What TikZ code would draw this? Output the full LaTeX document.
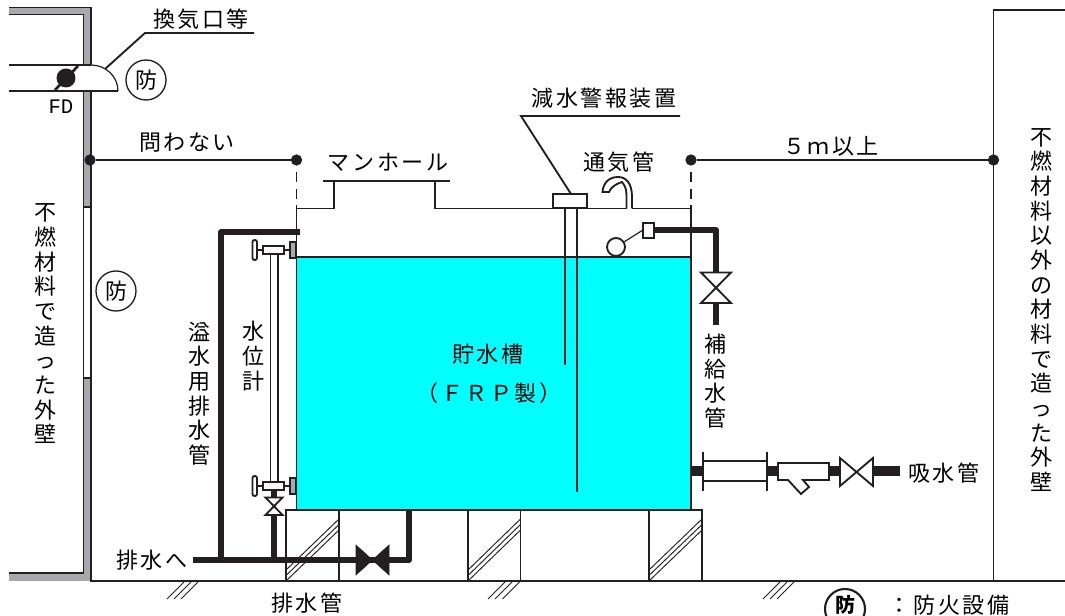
\documentclass[tikz,border=0pt]{standalone}
\usepackage{fontspec}
\newfontfamily\jp{Noto Sans CJK JP}
\newfontfamily\jps[LetterSpace=12]{Noto Sans CJK JP}
\newfontfamily\fdfont{Liberation Mono}
\definecolor{ink}{HTML}{231F20}
\definecolor{wall}{HTML}{A7A9AC}
\definecolor{water}{HTML}{00FFFF}
\tikzset{
 ln/.style={draw=ink,line width=1.4pt},
 thin ln/.style={draw=ink,line width=0.9pt},
 pipe/.style={draw=ink,line width=4.2pt,line join=round},
 fatpipe/.style={draw=ink,line width=7.5pt},
 hor/.style={font=\jps\fontsize{16.5}{18}\selectfont,inner sep=0pt},
 ver/.style={font=\jp\fontsize{16.5}{18.5}\selectfont,align=center,inner sep=0pt},
 dot/.style={circle,fill=ink,minimum size=8.5pt,inner sep=0pt},
 mark circ/.style={circle,draw=ink,line width=1pt,minimum size=30pt,inner sep=0pt,font=\jp\fontsize{16.5}{18}\selectfont},
 hatch/.style={draw=ink,line width=0.7pt}
}
\begin{document}
\begin{tikzpicture}[x=0.75pt,y=-0.75pt]
\useasboundingbox (0,0) rectangle (1065,616);
\clip (0,0) rectangle (1065,616);
% wall left
\fill[wall] (9,7.5) -- (91,7.5) -- (91,65) -- (83.5,65) -- (83.5,14.5) -- (9,14.5) -- cycle;
\fill[wall] (83.5,91) rectangle (91,207);
\fill[wall] (83.5,378) -- (91,378) -- (91,581) -- (9,581) -- (9,573) -- (83.5,573) -- cycle;
\draw[ln] (9,7.5) -- (91,7.5) -- (91,65);
\draw[ln] (9,14.5) -- (83.5,14.5) -- (83.5,65);
\draw[ln] (83.5,91) -- (83.5,207) -- (91,207) -- (91,91);
\draw[thin ln] (83.5,207) -- (83.5,378) (91,207) -- (91,378);
\draw[ln] (91,581) -- (91,378) -- (83.5,378) -- (83.5,573) -- (9,573);
% duct
\draw[ln] (9,65) -- (91,65);
\draw[ln] (9,91) -- (118,91);
\draw[thin ln] (91,65) arc[start angle=-90,end angle=0,x radius=27,y radius=26];
\draw[ln,line width=2pt] (55,90) -- (78,66);
\fill[ink] (66,78) circle (9.5);
\node[font=\fdfont\fontsize{15.5}{16}\selectfont,inner sep=0pt] (fd) at (61,107) {FD};
\node[mark circ] (m1) at (146,80) {防};
\node[mark circ] (m2) at (116,291) {防};
% leader vents
\node[hor] (vent) at (201,19) {換気口等};
\coordinate (v1) at (254,33);
\coordinate (v2) at (145,33);
\coordinate (v3) at (105,69);
\draw[ln] (v1) -- (v2) -- (v3);
% ground
\draw[ln] (90,581) -- (1065,581);
\foreach \x in {184,191,198,505,512,519.5,780,787,794}
  \draw[hatch] (\x,582) -- ++(-17,17);
% right wall
\draw[ln] (1065,10) -- (993.5,10) -- (993.5,581);
% tank water
\fill[water] (297,257) rectangle (691,510);
\draw[ln] (296.5,257) -- (691,257);
% tank
\draw[ln] (296.5,510) -- (296.5,208.5) -- (334,208.5) -- (334,181);
\draw[ln] (323,181) -- (450,181);
\draw[ln] (434.7,181) -- (434.7,208.5) -- (553,208.5);
\draw[ln] (587,208.5) -- (626.5,208.5);
\draw[ln] (632,208.5) -- (691,208.5) -- (691,510);
% base
\draw[ln] (286,581) -- (286,510) -- (702,510) -- (702,581);
\foreach \x in {339,468,520.5,649} \draw[ln] (\x,510) -- (\x,581);
\foreach \xa/\xb in {286/339,468/520.5,649/702}
 \foreach \d in {0,5.5,11}
   \draw[hatch] (\xa,570+\d) -- (\xb,519+\d);
% dims
\node[dot] (d1) at (90,160) {};
\node[dot] (d2) at (296.5,160) {};
\node[dot] (d3) at (691,160) {};
\node[dot] (d4) at (993.5,160) {};
\draw[ln] (d1) -- (d2);
\draw[ln] (d3) -- (d4);
\draw[ln,dash pattern=on 7.5pt off 5pt] (296.5,172) -- (296.5,208);
\draw[ln,dash pattern=on 7.5pt off 5pt] (691,172) -- (691,208);
% alarm
\draw[ln] (565,208) -- (565,365);
\draw[ln] (577,208) -- (577,492);
\node[draw=ink,line width=1.4pt,fill=white,minimum width=25pt,minimum height=10.5pt,inner sep=0pt] (alarm) at (570,201) {};
\coordinate (a1) at (680,116);
\coordinate (a2) at (521,116);
\draw[ln] (a1) -- (a2) -- (571,194);
% vent pipe
\draw[ln] (632,208.5) -- (632,197) .. controls (632,183) and (626,177) .. (618,177) .. controls (608,177) and (603,184) .. (602.5,192) -- (609,192) .. controls (611,187) and (616,184) .. (622,182) .. controls (626,187) and (626.5,190) .. (626.5,197) -- (626.5,208.5);
% float
\node[circle,draw=ink,line width=1.4pt,fill=white,minimum size=13.5pt,inner sep=0pt] (flt) at (616,247) {};
\draw[thin ln] (flt) -- (643,230);
\draw[pipe] (654,230) -- (716,230) -- (716,272);
\node[draw=ink,line width=1.4pt,fill=white,minimum width=8pt,minimum height=11pt,inner sep=0pt] (tap) at (648.5,230.5) {};
\draw[ln,fill=white] (701,272.5) -- (731,272.5) -- (701,303) -- (731,303) -- cycle;
\draw[pipe] (716,303) -- (716,325);
% suction
\draw[fatpipe] (692,471) -- (703,471);
\draw[fatpipe] (767,471) -- (779,471);
\draw[fatpipe] (829,471) -- (841,471);
\draw[fatpipe] (873,471) -- (900,471);
\draw[ln] (703,461) -- (767,461) (703,481) -- (767,481);
\draw[ln] (703,452) -- (703,491) (767,452) -- (767,491);
\draw[ln,fill=white] (778,463) -- (829,463) -- (829,480) -- (803,480) -- (809,487) -- (801,494) -- (788,480) -- (778,480) -- cycle;
\draw[ln,fill=white] (840,458) -- (873,486) -- (873,458) -- (840,486) -- cycle;
% overflow
\draw[pipe] (300,232) -- (221,232) -- (221,560);
\draw[pipe] (193,560) -- (409,560) -- (409,510);
\draw[fill=ink,draw=ink] (356,545) -- (389,575) -- (389,545) -- (356,575) -- cycle;
\draw[pipe] (274,515) -- (274,560);
\draw[pipe] (274,490) -- (274,497);
\draw[ln,fill=white] (265.5,497.5) -- (282.5,497.5) -- (265.5,515) -- (282.5,515) -- cycle;
% gauge
\draw[thin ln] (270.5,254) -- (270.5,482);
\draw[thin ln] (278,254) -- (278,482);
\foreach \y in {250,486} {
 \draw[ln] (257,\y) -- (263,\y) (284,\y) -- (290,\y);
 \draw[ln,fill=white] (263,\y-4) rectangle (284,\y+4);
 \draw[ln,fill=white,rounded corners=1.5pt] (252.5,\y-10) rectangle (257,\y+10);
 \draw[ln,fill=wall] (290,\y-8) rectangle (296,\y+8);
}
% labels
\node[hor] (l1) at (187,143) {問わない};
\node[hor] (l2) at (388,162) {マンホール};
\node[hor] (l3) at (604,98) {減水警報装置};
\node[hor] (l4) at (619,162) {通気管};
\node[hor] (l5) at (831,146) {５ｍ以上};
\node[hor] (l6) at (488,354) {貯水槽};
\node[hor] (l7) at (489,393) {（ＦＲＰ製）};
\node[hor] (l8) at (944,473) {吸水管};
\node[hor] (l9) at (152,560) {排水へ};
\node[hor] (l10) at (307,603) {排水管};
\node[ver] (v1t) at (45,324) {不\\燃\\材\\料\\で\\造\\っ\\た\\外\\壁};
\node[ver] (v2t) at (1041,310) {不\\燃\\材\\料\\以\\外\\の\\材\\料\\で\\造\\っ\\た\\外\\壁};
\node[ver] (v3t) at (199.5,393.5) {溢\\水\\用\\排\\水\\管};
\node[ver] (v4t) at (253,356) {水\\位\\計};
\node[ver] (v5t) at (715,381) {補\\給\\水\\管};
\node[circle,draw=ink,line width=1.6pt,minimum size=30pt,inner sep=0pt] (m3) at (845,609) {};
\node[font=\jp\bfseries\fontsize{15}{18}\selectfont,inner sep=0pt] (m3t) at (845,605) {防};
\node[hor] (l11) at (949,605) {：防火設備};
\end{tikzpicture}
\end{document}
